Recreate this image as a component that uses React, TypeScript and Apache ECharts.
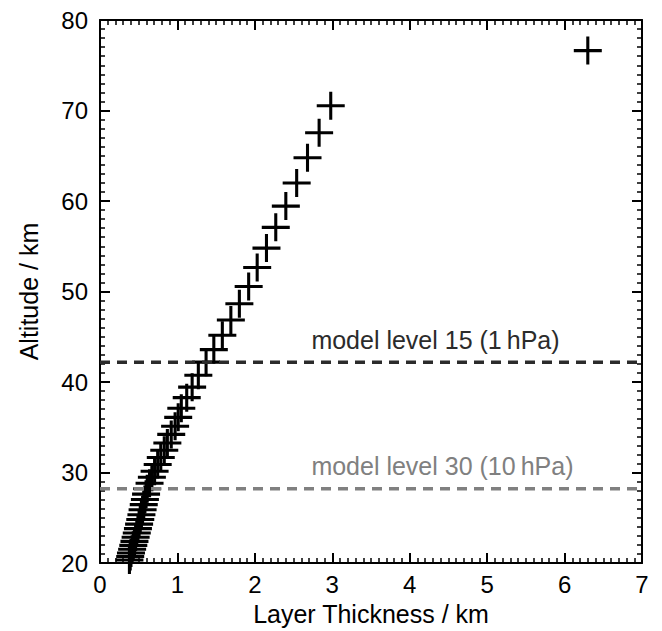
import React, { useEffect, useRef } from "react";
import * as echarts from "echarts";

const thickness = [
  6.3, 2.98, 2.83, 2.68, 2.54, 2.4, 2.27, 2.15, 2.03, 1.92, 1.8, 1.69, 1.58, 1.47, 1.37,
  1.27, 1.19, 1.12, 1.05, 1.01, 0.97, 0.92, 0.87, 0.83, 0.785, 0.745, 0.705, 0.67, 0.64, 0.61,
  0.595, 0.58, 0.565, 0.55, 0.535, 0.52, 0.505, 0.49, 0.475, 0.46, 0.445, 0.43, 0.415, 0.4,
  0.39, 0.38, 0.37,
];
const altitude = [
  76.62, 70.52, 67.55, 64.78, 61.99, 59.44, 57.09, 54.8, 52.66, 50.56, 48.66, 46.85, 45.17,
  43.58, 42.2, 40.75, 39.44, 38.28, 37.11, 36.1, 35.12, 34.22, 33.27, 32.47, 31.67, 30.9,
  30.14, 29.49, 28.83, 28.22, 27.62, 27.03, 26.46, 25.9, 25.35, 24.82, 24.31, 23.81, 23.32,
  22.85, 22.4, 21.96, 21.53, 21.12, 20.73, 20.34, 19.97,
];
const levelAltitudes = [42.2, 28.22];
const levelLabels = ["model level 15 (1\u2009hPa)", "model level 30 (10\u2009hPa)"];
const levelColors = ["#2b2b2b", "#808080"];
const labelX = 2.73;

const FONT = "'Liberation Sans', Helvetica, Arial, sans-serif";
const PLUS = "path://M44.5,0 H55.5 V44.5 H100 V55.5 H55.5 V100 H44.5 V55.5 H0 V44.5 H44.5 Z";

export default function App() {
  const ref = useRef<HTMLDivElement>(null);
  useEffect(() => {
    const chart = echarts.init(ref.current!, null, { renderer: "svg" });
    const axisCommon = {
      axisLine: { show: true, onZero: false, lineStyle: { color: "#000", width: 2 } },
      axisTick: { show: true, inside: true, length: 10, lineStyle: { color: "#000", width: 2 } },
      minorTick: { show: true, splitNumber: 10, length: 5, lineStyle: { color: "#000", width: 1.5 } },
      splitLine: { show: false },
    };
    const option: any = {
      animation: false,
      grid: { left: 84, right: 20, top: 5, bottom: 67 },
      xAxis: [
        {
          ...axisCommon,
          type: "value",
          min: 0,
          max: 7,
          interval: 1,
          position: "bottom",
          name: "Layer Thickness / km",
          nameLocation: "middle",
          nameGap: 25,
          nameTextStyle: { fontSize: 25, color: "#000", fontFamily: FONT },
          axisLabel: { fontSize: 24, color: "#000", fontFamily: FONT, margin: 9 },
        },
        {
          ...axisCommon,
          type: "value",
          min: 0,
          max: 7,
          interval: 1,
          position: "top",
          axisLabel: { show: false },
        },
      ],
      yAxis: [
        {
          ...axisCommon,
          type: "value",
          min: 20,
          max: 80,
          interval: 10,
          position: "left",
          name: "Altitude / km",
          nameLocation: "middle",
          nameGap: 59,
          nameTextStyle: { fontSize: 25, color: "#000", fontFamily: FONT },
          axisLabel: { fontSize: 24, color: "#000", fontFamily: FONT, margin: 12 },
        },
        {
          ...axisCommon,
          type: "value",
          min: 20,
          max: 80,
          interval: 10,
          position: "right",
          axisLabel: { show: false },
        },
      ],
      series: [
        {
          type: "scatter",
          xAxisIndex: 0,
          yAxisIndex: 0,
          symbol: PLUS,
          symbolSize: 28,
          itemStyle: { color: "#000", opacity: 1 },
          data: thickness.map((t, i) => [t, altitude[i]]),
          z: 2,
        },
        ...levelAltitudes.map((a, i) => ({
          type: "line",
          xAxisIndex: 0,
          yAxisIndex: 0,
          symbol: "none",
          data: [
            [0, a],
            [7, a],
          ],
          lineStyle: { color: levelColors[i], width: 3.5, type: [10, 7] },
          z: 3,
        })),
      ],
    };
    chart.setOption(option);
    const graphics = levelAltitudes.map((a, i) => {
      const p = chart.convertToPixel({ xAxisIndex: 0, yAxisIndex: 0 }, [labelX, a]) as number[];
      return {
        type: "text",
        x: p[0],
        y: p[1] - 10,
        style: {
          text: levelLabels[i],
          fill: levelColors[i],
          font: `25px ${FONT}`,
          verticalAlign: "bottom",
        },
        z: 10,
      };
    });
    chart.setOption({ graphic: graphics });
    return () => chart.dispose();
  }, []);
  return <div ref={ref} style={{ width: 654, height: 623 }} />;
}
